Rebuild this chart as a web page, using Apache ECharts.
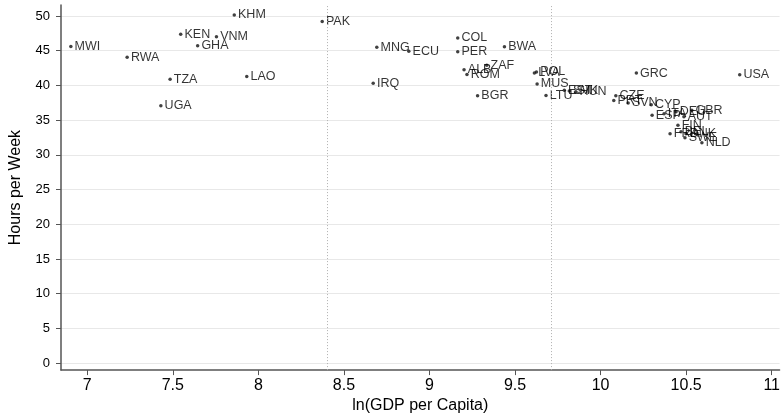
<!DOCTYPE html>
<html>
<head>
<meta charset="utf-8">
<script src="https://cdn.jsdelivr.net/npm/echarts@6/dist/echarts.min.js"></script>
<style>
  html, body { margin: 0; padding: 0; background: #fff; }
  #chart { width: 783px; height: 419px; }
</style>
</head>
<body>
<div id="chart"></div>
<script>
// Country codes, log GDP per capita and average weekly hours worked
const countries = ['MWI','RWA','KEN','VNM','GHA','KHM','TZA','LAO','UGA','PAK',
  'MNG','ECU','IRQ','COL','PER','BWA','ZAF','ALB','ROM','BGR',
  'LVA','POL','MUS','LTU','EST','SVK','HUN','GRC','USA','CZE',
  'PRT','SVN','CYP','ESP','ITA','DEU','AUT','GBR','FIN','FRA',
  'BEL','DNK','SWE','NLD'];
const lnGdp = [6.904, 7.233, 7.546, 7.755, 7.645, 7.859, 7.484, 7.932, 7.430, 8.373,
  8.692, 8.879, 8.671, 9.165, 9.165, 9.438, 9.335, 9.202, 9.219, 9.281,
  9.613, 9.625, 9.629, 9.681, 9.788, 9.817, 9.855, 10.209, 10.813, 10.089,
  10.077, 10.161, 10.296, 10.301, 10.371, 10.441, 10.487, 10.533, 10.452, 10.406,
  10.470, 10.499, 10.493, 10.592];
const hours = [45.6, 44.07, 47.37, 47.0, 45.7, 50.14, 40.9, 41.28, 37.07, 49.2,
  45.5, 44.93, 40.3, 46.84, 44.86, 45.55, 42.9, 42.24, 41.57, 38.5,
  41.79, 41.93, 40.2, 38.55, 39.3, 39.2, 39.08, 41.77, 41.52, 38.5,
  37.83, 37.46, 37.21, 35.7, 35.92, 36.21, 35.49, 36.42, 34.27, 33.05,
  33.33, 33.05, 32.47, 31.75];

const xTicks = [7, 7.5, 8, 8.5, 9, 9.5, 10, 10.5, 11];
const yTicks = [0, 5, 10, 15, 20, 25, 30, 35, 40, 45, 50];
// Income-group thresholds (log scale)
const thresholds = [8.40, 9.71];

const points = countries.map((c, i) => [lnGdp[i], hours[i], c]);

const axisColor = '#555';
const textColor = '#000';

const chart = echarts.init(document.getElementById('chart'), null, { renderer: 'canvas' });
chart.setOption({
  animation: false,
  backgroundColor: '#fff',
  grid: { left: 60, right: 0, top: 5, bottom: 48, containLabel: false },
  xAxis: {
    type: 'value',
    min: 6.8464, max: 11.046,
    name: 'ln(GDP per Capita)',
    nameLocation: 'middle',
    nameGap: 24,
    nameTextStyle: { fontFamily: 'Liberation Sans Narrow, Liberation Sans, Arial', fontSize: 16, color: textColor },
    axisLine: { show: true, onZero: false, lineStyle: { color: axisColor, width: 1.5 } },
    axisTick: { show: true, length: 5, lineStyle: { color: axisColor }, customValues: xTicks },
    axisLabel: { customValues: xTicks, margin: 7, fontFamily: 'Liberation Sans Narrow, Liberation Sans, Arial', fontSize: 16, color: textColor },
    splitLine: { show: false }
  },
  yAxis: {
    type: 'value',
    min: -1.006, max: 51.58,
    name: 'Hours per Week',
    nameLocation: 'middle',
    nameGap: 37,
    nameTextStyle: { fontFamily: 'Liberation Sans, Arial', fontSize: 16, color: textColor },
    axisLine: { show: true, onZero: false, lineStyle: { color: axisColor, width: 1.5 } },
    axisTick: { show: true, length: 5, lineStyle: { color: axisColor }, customValues: yTicks },
    axisLabel: { customValues: yTicks, margin: 11, fontFamily: 'Liberation Sans, Arial', fontSize: 13, color: textColor },
    splitLine: { show: true, lineStyle: { color: '#e8e8e8', width: 1.2 } }
  },
  series: [
    {
      // income threshold reference lines
      type: 'scatter',
      data: [],
      z: 1,
      silent: true,
      markLine: {
        silent: true,
        symbol: 'none',
        label: { show: false },
        animation: false,
        data: thresholds.map(v => ({ xAxis: v, lineStyle: { color: '#b0b0b0', width: 1, type: [1, 2] } }))
      }
    },
    {
      type: 'scatter',
      z: 3,
      symbol: 'circle',
      symbolSize: 3.5,
      itemStyle: { color: '#111' },
      data: points,
      label: {
        show: true,
        position: 'right',
        distance: 2,
        formatter: p => p.data[2],
        fontFamily: 'Liberation Sans, Arial',
        fontSize: 12.5,
        color: textColor
      }
    }
  ]
});
</script>
</body>
</html>
